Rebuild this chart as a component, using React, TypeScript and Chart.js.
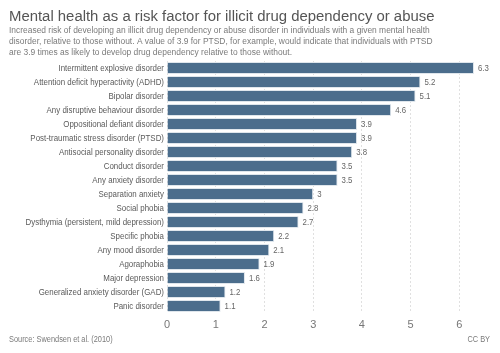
import React, { useEffect, useRef } from "react";
import { Chart, registerables } from "chart.js";

Chart.register(...registerables);

const categories = [
  "Intermittent explosive disorder",
  "Attention deficit hyperactivity (ADHD)",
  "Bipolar disorder",
  "Any disruptive behaviour disorder",
  "Oppositional defiant disorder",
  "Post-traumatic stress disorder (PTSD)",
  "Antisocial personality disorder",
  "Conduct disorder",
  "Any anxiety disorder",
  "Separation anxiety",
  "Social phobia",
  "Dysthymia (persistent, mild depression)",
  "Specific phobia",
  "Any mood disorder",
  "Agoraphobia",
  "Major depression",
  "Generalized anxiety disorder (GAD)",
  "Panic disorder",
];
const values = [6.3, 5.2, 5.1, 4.6, 3.9, 3.9, 3.8, 3.5, 3.5, 3, 2.8, 2.7, 2.2, 2.1, 1.9, 1.6, 1.2, 1.1];
const xTicks = [0, 1, 2, 3, 4, 5, 6];

const title = "Mental health as a risk factor for illicit drug dependency or abuse";
const subtitleLines = [
  "Increased risk of developing an illicit drug dependency or abuse disorder in individuals with a given mental health",
  "disorder, relative to those without. A value of 3.9 for PTSD, for example, would indicate that individuals with PTSD",
  "are 3.9 times as likely to develop drug dependency relative to those without.",
];
const sourceText = "Source: Swendsen et al. (2010)";
const licenseText = "CC BY";

const FONT = "'Liberation Sans', Arial, Helvetica, sans-serif";
const SQ = 0.87; // horizontal squeeze to mimic the narrower reference face

function squeezedText(ctx: any, text: string, x: number, y: number, font: string, align: string, base: string, color: string) {
  ctx.save();
  ctx.font = font;
  ctx.textAlign = align;
  ctx.textBaseline = base;
  ctx.fillStyle = color;
  ctx.translate(x, y);
  ctx.scale(SQ, 1);
  ctx.fillText(text, 0, 0);
  ctx.restore();
}

const textPlugin = {
  id: "textPlugin",
  afterDraw(chart: any) {
    const ctx = chart.ctx;
    ctx.save();
    ctx.textBaseline = "alphabetic";
    ctx.textAlign = "left";
    ctx.fillStyle = "#555";
    ctx.font = `14.9px ${FONT}`;
    ctx.fillText(title, 9, 21);
    subtitleLines.forEach((l, i) =>
      squeezedText(ctx, l, 9, 32.5 + i * 11, `9.7px ${FONT}`, "left", "alphabetic", "#7a7a7a")
    );
    squeezedText(ctx, sourceText, 9, 342, `8.5px ${FONT}`, "left", "alphabetic", "#7a7a7a");
    squeezedText(ctx, licenseText, 490, 342, `8.5px ${FONT}`, "right", "alphabetic", "#7a7a7a");

    const meta = chart.getDatasetMeta(0);
    meta.data.forEach((bar: any, i: number) => {
      squeezedText(ctx, categories[i], 164, bar.y + 0.5, `9.1px ${FONT}`, "right", "middle", "#5a5a5a");
      squeezedText(ctx, String(values[i]), bar.x + 4, bar.y + 0.5, `9px ${FONT}`, "left", "middle", "#666");
    });
    ctx.restore();
  },
};

export default function App() {
  const ref = useRef<HTMLCanvasElement>(null);
  useEffect(() => {
    document.body.style.margin = "0";
    const chart = new Chart(ref.current!, {
      type: "bar",
      data: {
        labels: categories,
        datasets: [
          {
            data: values,
            backgroundColor: "#4b6d8c",
            borderColor: "#dfe6ec",
            borderWidth: 1,
            barPercentage: 0.86,
            categoryPercentage: 1,
          },
        ],
      },
      options: {
        indexAxis: "y",
        animation: false,
        responsive: false,
        layout: { padding: { top: 61, bottom: 20, left: 0, right: 26 } },
        plugins: { legend: { display: false }, tooltip: { enabled: false } },
        scales: {
          x: {
            min: 0,
            max: 6.3,
            afterBuildTicks(scale: any) {
              scale.ticks = xTicks.map((v) => ({ value: v }));
            },
            afterFit(scale: any) {
              scale.height = 20;
            },
            grid: {
              color: "#e0e0e0",
              drawTicks: false,
            },
            border: { display: false, dash: [2, 2] },
            ticks: {
              color: "#777",
              font: { family: FONT, size: 11 },
              padding: 5,
            },
          },
          y: {
            afterFit(scale: any) {
              scale.width = 167;
            },
            grid: { display: false },
            border: { display: false },
            ticks: { display: false, autoSkip: false },
          },
        },
      },
      plugins: [textPlugin],
    } as any);
    return () => chart.destroy();
  }, []);
  return <canvas ref={ref} width={500} height={353} style={{ display: "block" }} />;
}
